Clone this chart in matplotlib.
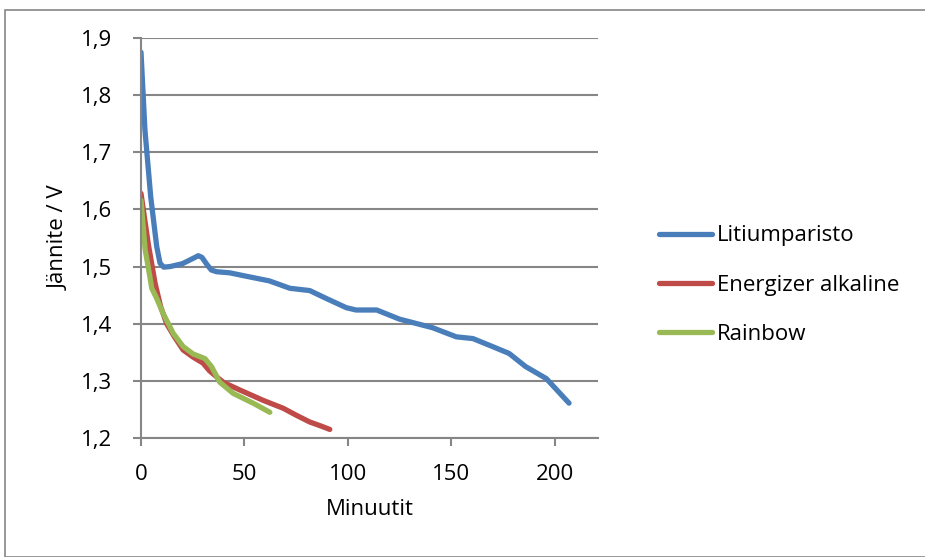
import matplotlib.pyplot as plt
from matplotlib.patches import Rectangle
from matplotlib.lines import Line2D

plt.rcParams['font.family'] = ['Open Sans', 'DejaVu Sans']

# Discharge curves, time in minutes and voltage in volts
lithium_t = [0, 1.9, 4.7, 7.6, 9.2, 11, 14, 20, 25, 27.7, 29.5, 32, 34, 36.5, 43, 51, 62,
             72, 81.6, 89.7, 99.3, 104, 114, 125, 141, 152.5, 160.5, 170, 178, 186, 196, 207]
lithium_v = [1.875, 1.739, 1.622, 1.535, 1.506, 1.499, 1.5, 1.505, 1.514, 1.519, 1.516,
             1.503, 1.494, 1.491, 1.489, 1.483, 1.475, 1.462, 1.458, 1.444, 1.428, 1.424,
             1.424, 1.408, 1.393, 1.377, 1.374, 1.36, 1.348, 1.325, 1.304, 1.261]

alkaline_t = [0, 1.5, 3.5, 6.8, 9.5, 12.4, 16, 20.4, 25, 30, 33, 36.6, 40, 47.8, 59,
              68.8, 75, 81.6, 87, 91.3]
alkaline_v = [1.628, 1.59, 1.54, 1.471, 1.43, 1.4, 1.378, 1.354, 1.342, 1.331, 1.318,
              1.307, 1.297, 1.284, 1.266, 1.252, 1.24, 1.228, 1.221, 1.215]

rainbow_t = [0, 2, 4.3, 5.2, 7.5, 10.7, 15.6, 20.4, 25.2, 30.9, 34.1, 38, 44.6, 54.2, 62.3]
rainbow_v = [1.616, 1.53, 1.482, 1.462, 1.445, 1.418, 1.383, 1.36, 1.347, 1.339, 1.325,
             1.298, 1.278, 1.261, 1.245]

series = [
    ("Litiumparisto", lithium_t, lithium_v, "#4A7EBB"),
    ("Energizer alkaline", alkaline_t, alkaline_v, "#BE4B48"),
    ("Rainbow", rainbow_t, rainbow_v, "#98B954"),
]

W, H = 925, 557
fig = plt.figure(figsize=(W / 100, H / 100), dpi=100)

# outer chart frame
fig.patches.append(Rectangle((5 / W, 0), 1, 1 - 10 / H, transform=fig.transFigure,
                             fill=False, edgecolor="#868686", linewidth=1.2))

ax = fig.add_axes([141 / W, 1 - 438 / H, (598 - 141) / W, 400 / H])
grid_color = "#868686"
fs = 16
lw = 3.8

for name, t, v, color in series:
    ax.plot(t, v, color=color, linewidth=lw, solid_capstyle="round",
            solid_joinstyle="round", label=name)

ax.set_xlim(0, 221)
ax.set_ylim(1.2, 1.9)
ax.set_xticks([0, 50, 100, 150, 200])
yticks = [1.2, 1.3, 1.4, 1.5, 1.6, 1.7, 1.8, 1.9]
ax.set_yticks(yticks)
ax.set_yticklabels([f"{y:.1f}".replace(".", ",") for y in yticks])
ax.yaxis.grid(True, color=grid_color, linewidth=1.5)
ax.set_axisbelow(True)

for side in ["top", "right"]:
    ax.spines[side].set_visible(False)
for side in ["left", "bottom"]:
    ax.spines[side].set_color(grid_color)
    ax.spines[side].set_linewidth(1.5)
ax.tick_params(axis="both", colors=grid_color, labelcolor="black", labelsize=fs,
               length=6, width=1.5, direction="out")
ax.tick_params(axis="x", pad=13)
ax.tick_params(axis="y", pad=15)

ax.set_xlabel("Minuutit", fontsize=fs, labelpad=10)
ax.set_ylabel("Jännite / V", fontsize=fs, labelpad=8)

handles = [Line2D([], [], color=c, linewidth=lw, solid_capstyle="round") for _, _, _, c in series]
fig.legend(handles, [s[0] for s in series], loc="center left",
           bbox_to_anchor=(650 / W, 1 - 285 / H), frameon=False, fontsize=fs,
           handlelength=2.4, handletextpad=0.2, labelspacing=1.26, borderaxespad=0)

fig.savefig("out.png", dpi=100)
